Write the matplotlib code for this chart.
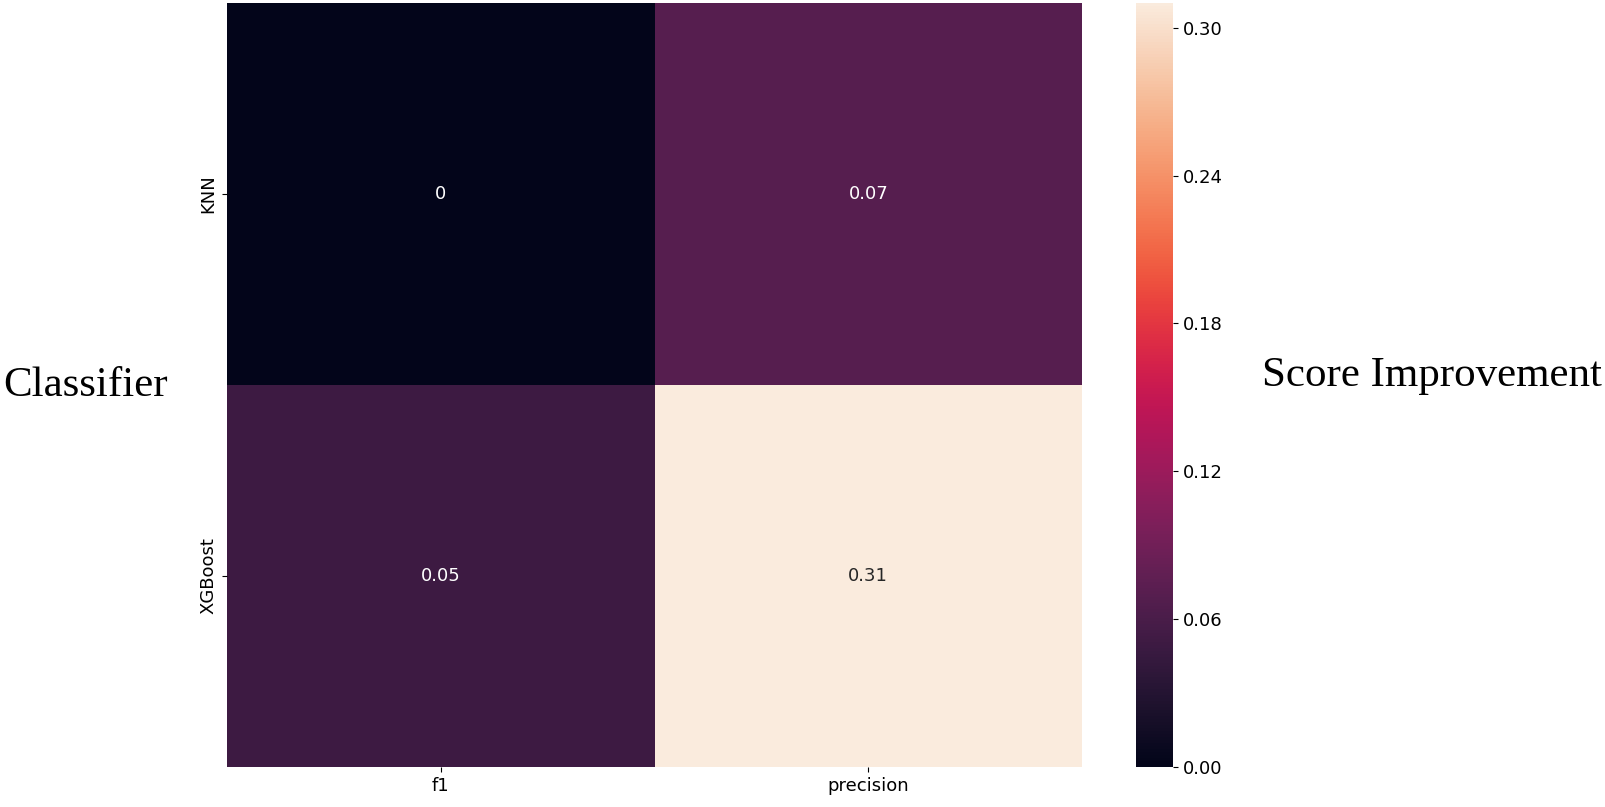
import numpy as np
import matplotlib
matplotlib.use("Agg")
import matplotlib.pyplot as plt
import seaborn as sns

classifiers = ["KNN", "XGBoost"]
metrics = ["f1", "precision"]
f1_gain = [0.0, 0.05]
precision_gain = [0.07, 0.31]
cbar_ticks = [0.00, 0.06, 0.12, 0.18, 0.24, 0.30]

data = np.column_stack([f1_gain, precision_gain])

fig = plt.figure(figsize=(16.05, 8.07), dpi=100)
ax = fig.add_axes([227 / 1605, 1 - 767 / 807, 855 / 1605, 764 / 807])
cax = fig.add_axes([1136 / 1605, 1 - 767 / 807, 37 / 1605, 764 / 807])

sns.heatmap(data, ax=ax, cbar_ax=cax, cmap="rocket", annot=True,
            annot_kws={"fontsize": 13}, vmin=0, vmax=0.31,
            xticklabels=metrics, yticklabels=classifiers,
            cbar_kws={"ticks": cbar_ticks})
ax.tick_params(labelsize=13)
ax.set_yticklabels(classifiers, rotation=90, va="center")
cax.tick_params(labelsize=13)
cax.yaxis.set_major_formatter(matplotlib.ticker.FormatStrFormatter("%.2f"))

fig.text(3 / 1605, 1 - 386 / 807, "Classifier", family="Liberation Serif",
         fontsize=31, va="center", ha="left")
fig.text(1262 / 1605, 1 - 376 / 807, "Score Improvement", family="Liberation Serif",
         fontsize=31, va="center", ha="left")

fig.savefig("out.png", dpi=100)
